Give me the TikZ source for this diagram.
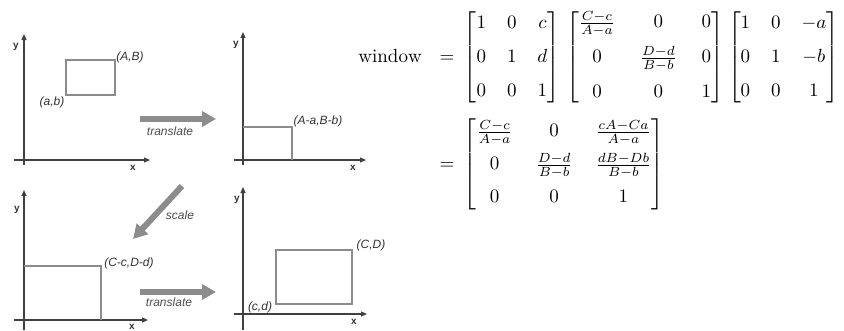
\documentclass[tikz,border=0pt]{standalone}
\usepackage{fontspec}
\setsansfont{Liberation Sans}
\usepackage{amsmath}
\usetikzlibrary{arrows.meta}
\tikzset{
  axis/.style={draw=black!75, line width=1.2pt, -{Triangle[length=6pt,width=5pt]}},
  box/.style={draw=black!45, line width=1.1pt},
  lbl/.style={font=\sffamily\itshape\fontsize{12}{13}\selectfont, text=black!80, inner sep=0pt},
  axl/.style={font=\sffamily\bfseries\fontsize{10}{11}\selectfont, text=black!80, inner sep=0pt},
  bigarrow/.style={draw=black!45, line width=6pt, -{Triangle[length=14pt,width=15pt]}},
  arrlbl/.style={font=\sffamily\itshape\fontsize{12}{13}\selectfont, text=black!70, inner sep=0pt},
}
\begin{document}
\begin{tikzpicture}[x=1pt,y=-1pt]
\useasboundingbox (0,0) rectangle (844,330);
% ---------- panel 1 (top left)
\coordinate (p1y0) at (24,165); \coordinate (p1y1) at (24,34);
\coordinate (p1x0) at (14,160); \coordinate (p1x1) at (150,160);
\draw[axis] (p1y0) -- (p1y1);
\draw[axis] (p1x0) -- (p1x1);
\node[axl] (p1ylab) at (16,47) {y};
\node[axl] (p1xlab) at (133,168) {x};
\draw[box] (66,60) rectangle (115,95);
\node[lbl] (AB) at (130,57) {(A,B)};
\node[lbl] (ab) at (52,102) {(a,b)};
% ---------- arrow translate 1
\coordinate (t1a) at (140,119); \coordinate (t1b) at (216,119);
\draw[bigarrow] (t1a) -- (t1b);
\node[arrlbl] (t1l) at (170,131) {translate};
% ---------- panel 2 (top right)
\coordinate (p2y0) at (243,165); \coordinate (p2y1) at (243,32);
\coordinate (p2x0) at (234,160); \coordinate (p2x1) at (366,160);
\draw[axis] (p2y0) -- (p2y1);
\draw[axis] (p2x0) -- (p2x1);
\node[axl] (p2ylab) at (236,45) {y};
\node[axl] (p2xlab) at (353,168) {x};
\draw[box] (243,127) -| (292,160);
\node[lbl] (AaBb) at (318,121) {(A-a,B-b)};
% ---------- scale arrow
\coordinate (sa) at (182,186); \coordinate (sb) at (133,239);
\draw[bigarrow] (sa) -- (sb);
\node[arrlbl] (sl) at (180,215) {scale};
% ---------- panel 3 (bottom left)
\coordinate (p3y0) at (24,330); \coordinate (p3y1) at (24,190);
\coordinate (p3x0) at (14,320); \coordinate (p3x1) at (148,320);
\draw[axis] (p3y0) -- (p3y1);
\draw[axis] (p3x0) -- (p3x1);
\node[axl] (p3ylab) at (17,210) {y};
\node[axl] (p3xlab) at (132,327) {x};
\draw[box] (24,266) -| (101,320);
\node[lbl] (CcDd) at (129,263) {(C-c,D-d)};
% ---------- arrow translate 2
\coordinate (t2a) at (140,292); \coordinate (t2b) at (216,292);
\draw[bigarrow] (t2a) -- (t2b);
\node[arrlbl] (t2l) at (169,302) {translate};
% ---------- panel 4 (bottom right)
\coordinate (p4y0) at (243,330); \coordinate (p4y1) at (243,187);
\coordinate (p4x0) at (234,314); \coordinate (p4x1) at (367,314);
\draw[axis] (p4y0) -- (p4y1);
\draw[axis] (p4x0) -- (p4x1);
\node[axl] (p4ylab) at (237,200) {y};
\node[axl] (p4xlab) at (354,322) {x};
\draw[box] (276,250) rectangle (352,304);
\node[lbl] (CD) at (371,245) {(C,D)};
\node[lbl] (cd) at (260,307) {(c,d)};
% ---------- math
\node[anchor=north west, inner sep=0pt, scale=1.9] (math) at (358,11) {%
$\begin{aligned}
\mathrm{window}\mkern12mu &=\mkern4mu {\setlength\arraycolsep{5.5pt}\begin{bmatrix}1&0&c\\[6pt]0&1&d\\[6pt]0&0&1\end{bmatrix}}
\mkern6mu{\setlength\arraycolsep{6.5pt}\begin{bmatrix}\frac{C-c}{A-a}&0&0\\[6pt]0&\frac{D-d}{B-b}&0\\[6pt]0&0&1\end{bmatrix}}
\mkern4mu{\setlength\arraycolsep{5.5pt}\begin{bmatrix}1&0&-a\\[6pt]0&1&-b\\[6pt]0&0&1\end{bmatrix}}\\[4pt]
&=\mkern4mu {\setlength\arraycolsep{6pt}\begin{bmatrix}\frac{C-c}{A-a}&0&\frac{cA-Ca}{A-a}\\[5pt]0&\frac{D-d}{B-b}&\frac{dB-Db}{B-b}\\[5pt]0&0&1\end{bmatrix}}
\end{aligned}$};
\end{tikzpicture}
\end{document}
